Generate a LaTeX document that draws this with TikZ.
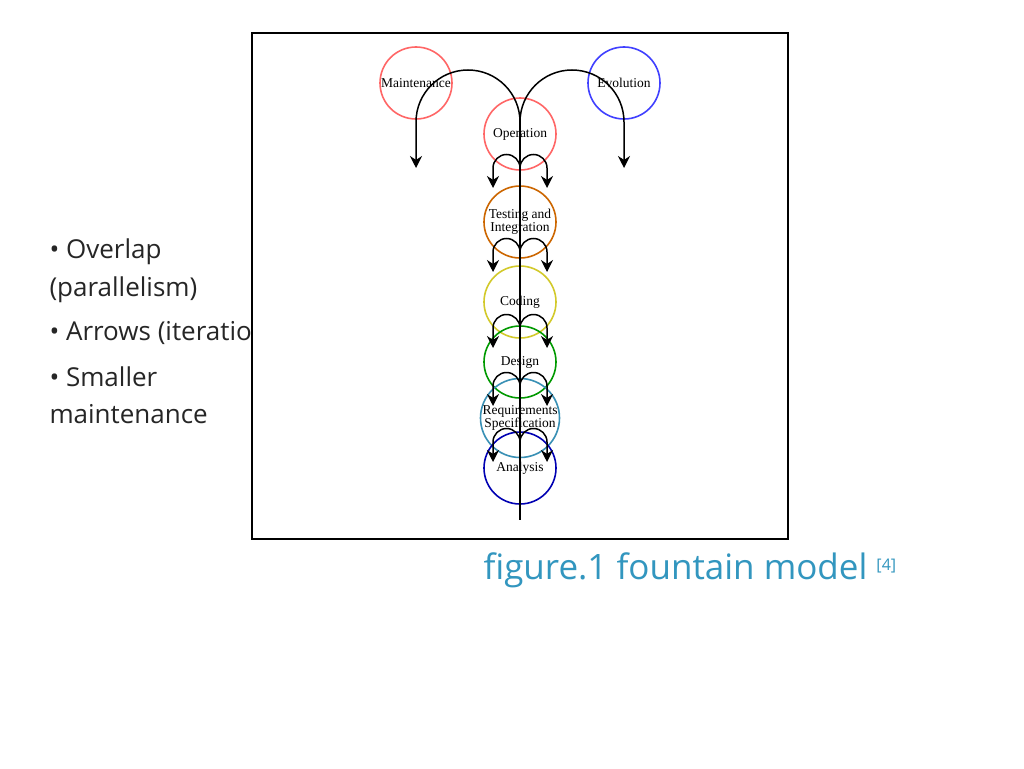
\documentclass[tikz,border=0pt]{standalone}
\usepackage{fontspec}
\setmainfont{Liberation Serif}
\newfontfamily\slidefont{Open Sans}
\usetikzlibrary{arrows.meta}
\begin{document}
\begin{tikzpicture}[x=1pt,y=-1pt,
  ring/.style={draw=#1,line width=1.6pt,circle,minimum size=72pt,inner sep=0pt,align=center,font=\fontsize{13.5}{13}\selectfont},
  flow/.style={draw=black,line width=1.5pt,-{Stealth[length=12pt,width=12pt]}},
  bul/.style={anchor=west,font=\slidefont\fontsize{26}{26}\selectfont,text=black!85}]
\useasboundingbox (0,0) rectangle (1024,768);
\fill[white] (0,0) rectangle (1024,768);
\node[bul] (t1) at (46,252) {• Overlap};
\node[bul] (t2) at (46,290) {(parallelism)};
\node[bul] (t3) at (46,333) {• Arrows (iteration)};
\node[bul] (t4) at (46,377) {• Smaller};
\node[bul] (t5) at (46,414) {maintenance};
\draw[fill=white,line width=1.5pt] (252,33) rectangle (788,539);
\node[ring=red!60] (mai) at (416,83) {Maintenance};
\node[ring=blue!75] (evo) at (624,83) {Evolution};
\node[ring=red!60] (ope) at (520,134) {Operation};
\node[ring=orange!80!black] (tes) at (520,222) {Testing and\\Integration};
\node[ring=yellow!80!black] (cod) at (520,302) {Coding};
\node[ring=green!60!black] (des) at (520,362) {Design};
\node[ring=cyan!70!black] (req) at (520,418) {Requirements\\Specification};
\node[ring=blue!70!black] (ana) at (520,468) {Analysis};
\coordinate (top) at (520,122);
\coordinate (bot) at (520,520);
\draw[line width=1.5pt] (top) -- (bot);
\draw[flow] (top) arc[start angle=0,end angle=-180,radius=52] -- ++(0,46);
\draw[flow] (top) arc[start angle=-180,end angle=0,radius=52] -- ++(0,46);
\foreach \y in {168,252,328,386,442}{
  \draw[flow] (520,\y) arc[start angle=0,end angle=-180,radius=13.5] -- ++(0,20);
  \draw[flow] (520,\y) arc[start angle=-180,end angle=0,radius=13.5] -- ++(0,20);
}
\node[anchor=west,text=cyan!50!teal,font=\slidefont\fontsize{35}{35}\selectfont] (cap) at (480,570) {figure.1 fountain model \textsuperscript{\fontsize{16}{16}\selectfont[4]}};
\end{tikzpicture}
\end{document}
